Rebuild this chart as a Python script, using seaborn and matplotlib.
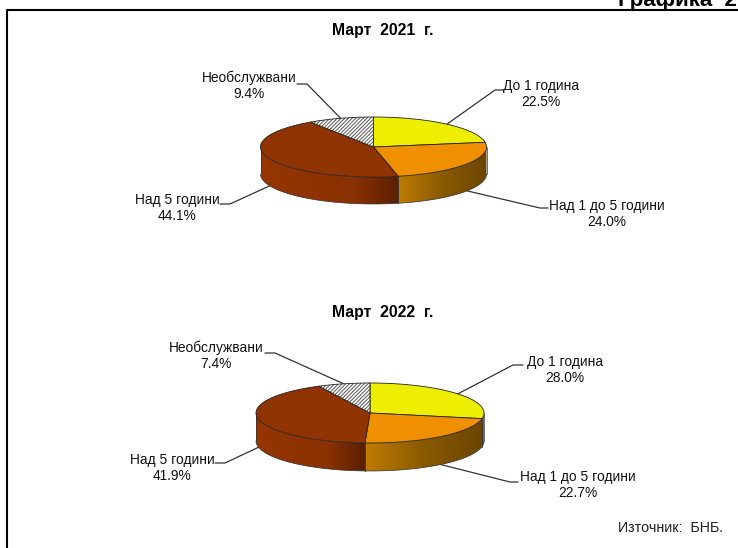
"""Two 3D-style pie charts of loans by maturity, drawn on a pixel canvas."""

import matplotlib.pyplot as plt
import numpy as np
import seaborn as sns
from matplotlib.patches import Polygon

CATEGORIES = ["До 1 година", "Над 1 до 5 години", "Над 5 години", "Необслужвани"]
VALUES_2021 = [22.5, 24.0, 44.1, 9.4]
VALUES_2022 = [28.0, 22.7, 41.9, 7.4]
TITLE_2021 = "Март  2021  г."
TITLE_2022 = "Март  2022  г."

TOP_COLORS = ["#eeee00", "#f09000", "#8f3300", "white"]
SIDE_COLORS = [
    ["#8c8c00", "#5c5c10"],
    ["#c07c00", "#8a5a00", "#6b4500"],
    ["#963600", "#8f3300", "#8a3100", "#5a2000"],
    ["#aaaaaa", "#888888"],
]

# centre x, centre y, rx, ry, depth in pixels
GEOM_2021 = (373.5, 147, 113, 30, 27)
GEOM_2022 = (370, 413, 114, 30, 28)

# label centre x, first line y, elbow x, elbow y, line end x
LABELS_2021 = [
    (541, 86, 495, 90, 503),
    (607, 206, 540, 208, 548),
    (177, 200, 230, 204, 220),
    (249, 78, 307, 84, 297),
]
LABELS_2022 = [
    (565, 362, 513, 365, 523),
    (578, 477, 510, 482, 518),
    (172, 460, 225, 463, 215),
    (216, 348, 275, 353, 265),
]


def rim(geom, a0, a1, n=120):
    cx, cy, rx, ry, _ = geom
    angles = np.radians(np.linspace(a0, a1, n))
    return cx + rx * np.sin(angles), cy - ry * np.cos(angles)


def draw_side(ax, geom, a0, a1, colors):
    # only the front half (90 to 270 degrees clockwise from the top) shows
    a0, a1 = max(a0, 90), min(a1, 270)
    if a1 <= a0:
        return
    depth = geom[4]
    xs, ys = rim(geom, a0, a1, 160)
    outline = np.column_stack([np.r_[xs, xs[::-1]], np.r_[ys, ys[::-1] + depth]])
    shades = np.array(sns.blend_palette(colors, 256))[:, :3][np.newaxis, :, :]
    clip = Polygon(outline, transform=ax.transData, facecolor="none", edgecolor="none")
    ax.add_patch(clip)
    image = ax.imshow(
        shades,
        extent=(xs.min(), xs.max(), ys.max() + depth, ys.min()),
        aspect="auto",
        interpolation="bilinear",
        zorder=2,
    )
    image.set_clip_path(clip)
    ax.plot(xs, ys + depth, color="#333333", lw=0.5, zorder=3)
    for x, y in [(xs[0], ys[0]), (xs[-1], ys[-1])]:
        ax.plot([x, x], [y, y + depth], color="#333333", lw=0.5, zorder=3)


def draw_pie(ax, values, geom, labels, title, title_y):
    cx, cy, rx, ry, depth = geom
    edges = np.cumsum([0] + list(values)) / sum(values) * 360

    for i in range(len(values)):
        draw_side(ax, geom, edges[i], edges[i + 1], SIDE_COLORS[i])

    for i in range(len(values)):
        xs, ys = rim(geom, edges[i], edges[i + 1])
        points = np.column_stack([np.r_[cx, xs], np.r_[cy, ys]])
        if CATEGORIES[i] == "Необслужвани":
            ax.add_patch(Polygon(points, facecolor="white", edgecolor="#555555",
                                 hatch="/" * 9, lw=0, zorder=4))
            ax.add_patch(Polygon(points, fill=False, edgecolor="#222222", lw=0.6, zorder=5))
        else:
            ax.add_patch(Polygon(points, facecolor=TOP_COLORS[i], edgecolor="#222222",
                                 lw=0.6, zorder=4))

    for i, (name, layout) in enumerate(zip(CATEGORIES, labels)):
        text_x, text_y, elbow_x, elbow_y, end_x = layout
        mid = (edges[i] + edges[i + 1]) / 2
        xs, ys = rim(geom, mid, mid, 1)
        start_y = ys[0] + (depth if 90 < mid < 270 else 0)
        ax.plot([xs[0], elbow_x, end_x], [start_y, elbow_y, elbow_y],
                color="#333333", lw=0.9, zorder=1)
        ax.text(text_x, text_y, name, ha="center", va="center", fontsize=9.9, color="#111111")
        ax.text(text_x, text_y + 16, f"{values[i]:.1f}%", ha="center", va="center",
                fontsize=9.9, color="#111111")

    ax.text(382.5, title_y, title, ha="center", va="center", fontsize=11.3,
            fontweight="bold", color="black")


def main() -> None:
    sns.set_theme(style="white")
    plt.rcParams["font.family"] = ["Liberation Sans", "DejaVu Sans"]
    plt.rcParams["hatch.linewidth"] = 0.7

    fig = plt.figure(figsize=(7.38, 5.48), dpi=100)
    ax = fig.add_axes([0, 0, 1, 1])
    ax.axis("off")

    # page frame
    ax.plot([6.5, 6.5, 738], [548, 9.5, 9.5], color="black", lw=1.5, zorder=1)

    ax.text(618, 6, "Графика  2", ha="left", va="baseline", fontsize=16,
            fontweight="bold", color="black")
    ax.text(723, 528, "Източник:  БНБ.", ha="right", va="center", fontsize=10.3,
            color="#222222")

    draw_pie(ax, VALUES_2021, GEOM_2021, LABELS_2021, TITLE_2021, 31)
    draw_pie(ax, VALUES_2022, GEOM_2022, LABELS_2022, TITLE_2022, 312)

    # imshow resets the limits, so set the pixel canvas last
    ax.set_xlim(0, 738)
    ax.set_ylim(548, 0)

    fig.savefig("out.png", dpi=100)
    plt.close(fig)


if __name__ == "__main__":
    main()
